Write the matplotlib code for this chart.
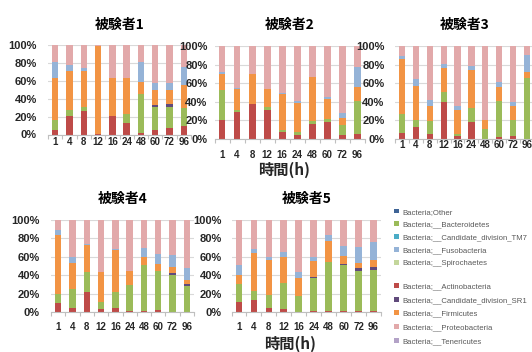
"""
Phylum-level relative abundance over time for five subjects,
drawn as 100% stacked columns (five small panels + shared legend).
Saves out.png.
"""

import numpy as np
import matplotlib
matplotlib.use("Agg")  # headless
import matplotlib.pyplot as plt
from matplotlib.patches import Patch

plt.rcParams["font.family"] = ["Noto Sans CJK JP", "DejaVu Sans"]

HOURS = ["1", "4", "8", "12", "16", "24", "48", "60", "72", "96"]
SUBJECTS = ["被験者1", "被験者2", "被験者3", "被験者4", "被験者5"]
Y_TICKS = [0, 20, 40, 60, 80, 100]

# Relative abundance (%) per subject (rows) and sampling time (columns)
actino = [
    [5, 21, 26, 1, 21, 13, 2, 5, 7, 10],
    [20, 29, 38, 31, 7, 4, 16, 18, 4, 5],
    [6, 13, 5, 40, 3, 18, 0.5, 2, 3, 0.5],
    [10, 4, 22, 3, 4, 1, 1, 2, 0.5, 0.5],
    [11, 13, 4, 3, 0.5, 1.5, 1.5, 1.5, 1, 1],
]
bacteroidetes = [
    [11, 7, 5, 0, 0, 10, 44, 26, 24, 20],
    [33, 2, 0, 3, 3, 4, 3, 4, 11, 36],
    [21, 7, 14, 11, 2, 15, 10.5, 39, 17, 65.5],
    [10, 21, 21, 8, 18, 28, 50, 43, 39.5, 27.5],
    [19, 10, 15, 28, 16.5, 35.5, 52.5, 49.5, 44, 45],
]
sr1 = [
    [0, 0, 0, 0, 0, 0, 0, 2, 3, 0],
    [0, 0, 0, 0, 0, 0, 0, 0, 0, 0],
    [0, 0, 0, 0, 0, 0, 0, 0, 0, 0],
    [0, 0, 0, 0, 0, 0, 0, 0, 2, 2],
    [0, 0, 0, 0, 0, 1, 0, 1, 3, 3],
]
firmicutes = [
    [47, 43, 40, 98, 42, 40, 13, 17, 16, 26],
    [17, 23, 32, 20, 38, 31, 48, 21, 8, 15],
    [59, 37, 16, 25, 26, 41, 9, 15, 15, 6],
    [64, 28, 30, 33, 45, 16, 9, 7, 7, 5],
    [10, 41, 38, 29, 20, 17, 23, 9, 5, 8],
]
fusobacteria = [
    [19, 7, 4, 0, 1, 0, 23, 8, 8, 20],
    [2, 1, 0, 0, 2, 2, 0, 2, 5, 21],
    [3, 7, 7, 5, 4, 4, 0, 5, 5, 18],
    [5, 7, 1, 0, 2, 0, 10, 11, 13, 13],
    [11, 5, 3, 5, 7, 5, 7, 11, 18, 19],
]
proteobacteria = [
    [18, 22, 25, 1, 36, 37, 18, 42, 42, 24],
    [28, 45, 30, 46, 50, 59, 33, 55, 72, 23],
    [11, 36, 58, 19, 65, 22, 80, 39, 60, 10],
    [11, 40, 26, 56, 31, 55, 30, 37, 38, 52],
    [49, 31, 40, 35, 56, 40, 16, 28, 29, 24],
]

C_OTHER = "#3f6496"
C_BACT = "#9bbb59"
C_TM7 = "#4bacc6"
C_FUSO = "#95b3d7"
C_SPIRO = "#c3d69b"
C_ACTINO = "#be4b48"
C_SR1 = "#604a7b"
C_FIRM = "#f29444"
C_PROTEO = "#e2a9aa"
C_TENER = "#b3a2c7"

# bottom-to-top stacking
STACK = [
    (actino, C_ACTINO),
    (bacteroidetes, C_BACT),
    (sr1, C_SR1),
    (firmicutes, C_FIRM),
    (fusobacteria, C_FUSO),
    (proteobacteria, C_PROTEO),
]

W, H = 532, 352

# axes boxes in pixels: left, top, right, bottom
BOXES = [
    (48, 45.5, 191, 134.5),
    (214.5, 46, 365, 139),
    (395, 46, 534, 139),
    (51, 220, 194, 312),
    (231.5, 220, 381, 312),
]
X_PAD = [2, 8, 1, 7.5, 7.5]    # points
Y_PAD = [8, 5, 7.5, 8, 7]

WIDE = ["Liberation Sans", "DejaVu Sans"]


def draw_panel(ax, k):
    x = np.arange(len(HOURS))
    bottom = np.zeros(len(HOURS))
    for vals, color in STACK:
        v = np.array(vals[k], dtype=float)
        ax.bar(x, v, 0.45, bottom=bottom, color=color, linewidth=0, zorder=2)
        bottom += v

    ax.set_xlim(-0.5, len(HOURS) - 0.5)
    ax.set_ylim(0, 100)
    ax.set_yticks(Y_TICKS)
    ax.set_yticklabels([f"{t}%" for t in Y_TICKS], family=WIDE,
                       fontweight="bold", fontsize=8)
    ax.set_xticks(x)
    ax.set_xticklabels(HOURS, family=WIDE, fontweight="bold", fontsize=7)
    ax.set_xticks(np.arange(-0.5, len(HOURS), 1), minor=True)
    ax.grid(axis="y", color="#d9d9d9", linewidth=0.8, zorder=0)
    ax.set_axisbelow(True)

    for side in ("left", "right", "top"):
        ax.spines[side].set_visible(False)
    ax.spines["bottom"].set_color("#bfbfbf")
    ax.spines["bottom"].set_linewidth(0.8)

    ax.tick_params(axis="x", which="major", length=0, pad=X_PAD[k],
                   colors="#262626")
    ax.tick_params(axis="x", which="minor", length=3, color="#bfbfbf",
                   width=0.8)
    ax.tick_params(axis="y", length=0, pad=Y_PAD[k], colors="#262626")
    ax.set_title(SUBJECTS[k], fontsize=10, fontweight="bold", pad=12)


fig = plt.figure(figsize=(W / 100, H / 100), dpi=100)
for k, (l, t, r, b) in enumerate(BOXES):
    ax = fig.add_axes([l / W, 1 - b / H, (r - l) / W, (b - t) / H])
    draw_panel(ax, k)

fig.text(284 / W, 1 - 170 / H, "時間(h)", ha="center", va="center",
         fontsize=11, fontweight="bold", color="#262626")
fig.text(290 / W, 1 - 344 / H, "時間(h)", ha="center", va="center",
         fontsize=11, fontweight="bold", color="#262626")

legend_a = [
    ("Bacteria;Other", C_OTHER),
    ("Bacteria;__Bacteroidetes", C_BACT),
    ("Bacteria;__Candidate_division_TM7", C_TM7),
    ("Bacteria;__Fusobacteria", C_FUSO),
    ("Bacteria;__Spirochaetes", C_SPIRO),
]
legend_b = [
    ("Bacteria;__Actinobacteria", C_ACTINO),
    ("Bacteria;__Candidate_division_SR1", C_SR1),
    ("Bacteria;__Firmicutes", C_FIRM),
    ("Bacteria;__Proteobacteria", C_PROTEO),
    ("Bacteria;__Tenericutes", C_TENER),
]
for items, top, spacing in ((legend_a, 208.5, 0.73), (legend_b, 283, 0.83)):
    handles = [Patch(facecolor=c, edgecolor="none", label=n) for n, c in items]
    fig.legend(handles=handles, loc="upper left",
               bbox_to_anchor=(394 / W, 1 - top / H), frameon=False,
               handlelength=0.6, handleheight=0.6,
               handletextpad=0.45, labelspacing=spacing, borderpad=0,
               borderaxespad=0, labelcolor="#595959",
               prop={"family": WIDE, "size": 5.6})

fig.savefig("out.png", dpi=100)
